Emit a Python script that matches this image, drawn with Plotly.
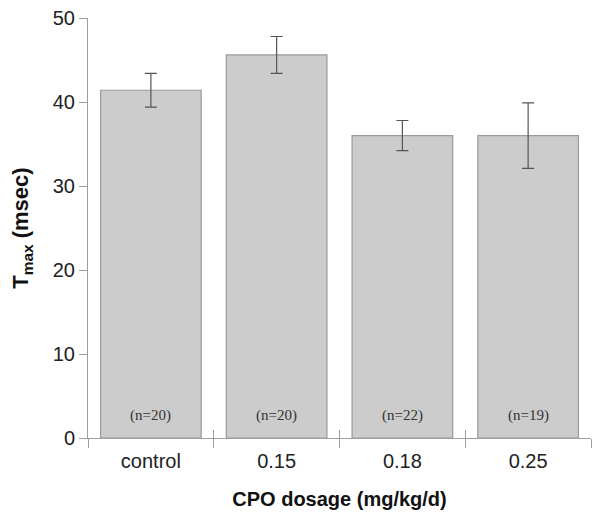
import plotly.graph_objects as go

categories = ["control", "0.15", "0.18", "0.25"]
tmax_values = [41.4, 45.6, 36.0, 36.0]
tmax_errors = [2.0, 2.2, 1.8, 3.9]
n_labels = ["(n=20)", "(n=20)", "(n=22)", "(n=19)"]
y_ticks = [0, 10, 20, 30, 40, 50]

fig = go.Figure()
fig.add_trace(go.Bar(
    x=categories,
    y=tmax_values,
    width=0.8,
    marker=dict(color="#cccccc", line=dict(color="#9a9a9a", width=1.2)),
    error_y=dict(type="data", array=tmax_errors, visible=True,
                 color="#555555", thickness=1.2, width=6),
    showlegend=False,
))
# invisible copy used only to draw the inner half of the boundary ticks
fig.add_trace(go.Bar(
    x=categories, y=tmax_values, xaxis="x2", opacity=0,
    hoverinfo="skip", showlegend=False,
))

for i, lab in enumerate(n_labels):
    fig.add_annotation(x=i, y=2.7, xref="x", yref="y", text=lab, showarrow=False,
                       font=dict(family="Liberation Serif, Times New Roman, serif", size=15, color="#333333"))

fig.update_layout(
    width=594, height=507,
    margin=dict(l=80, r=11, t=10, b=77),
    plot_bgcolor="white", paper_bgcolor="white",
    font=dict(family="Liberation Sans, Arial, sans-serif", size=20, color="#222222"),
    bargap=0.2,
    xaxis2=dict(
        type="category", overlaying="x", side="bottom",
        range=[-0.5, 3.5], automargin=False,
        ticks="inside", tickson="boundaries", ticklen=8, tickcolor="#a0a0a0",
        showticklabels=False, showline=False, showgrid=False, zeroline=False,
    ),
)
fig.layout.xaxis.update(
    type="category",
    range=[-0.5, 3.5],
    automargin=False,
    showline=True, linecolor="#a0a0a0", linewidth=1,
    ticks="outside", tickson="boundaries", ticklen=9, tickcolor="#a0a0a0",
    ticklabelstandoff=5,
    showgrid=False, zeroline=False,
    tickfont=dict(size=20, color="#222222"),
    title=dict(text="<b>CPO dosage (mg/kg/d)</b>", font=dict(size=20, color="#111111"), standoff=20),
)
fig.update_yaxes(
    range=[0, 50], tickvals=y_ticks,
    automargin=False,
    ticklabeloverflow="allow",
    showline=True, linecolor="#a0a0a0", linewidth=1,
    ticks="outside", ticklen=8, tickcolor="#a0a0a0",
    showgrid=False, zeroline=False,
    tickfont=dict(size=20, color="#222222"),
    title=dict(text="<b>T<sub>max</sub> (msec)</b>", font=dict(size=22, color="#111111"), standoff=22),
)

fig.write_html("out.html")
